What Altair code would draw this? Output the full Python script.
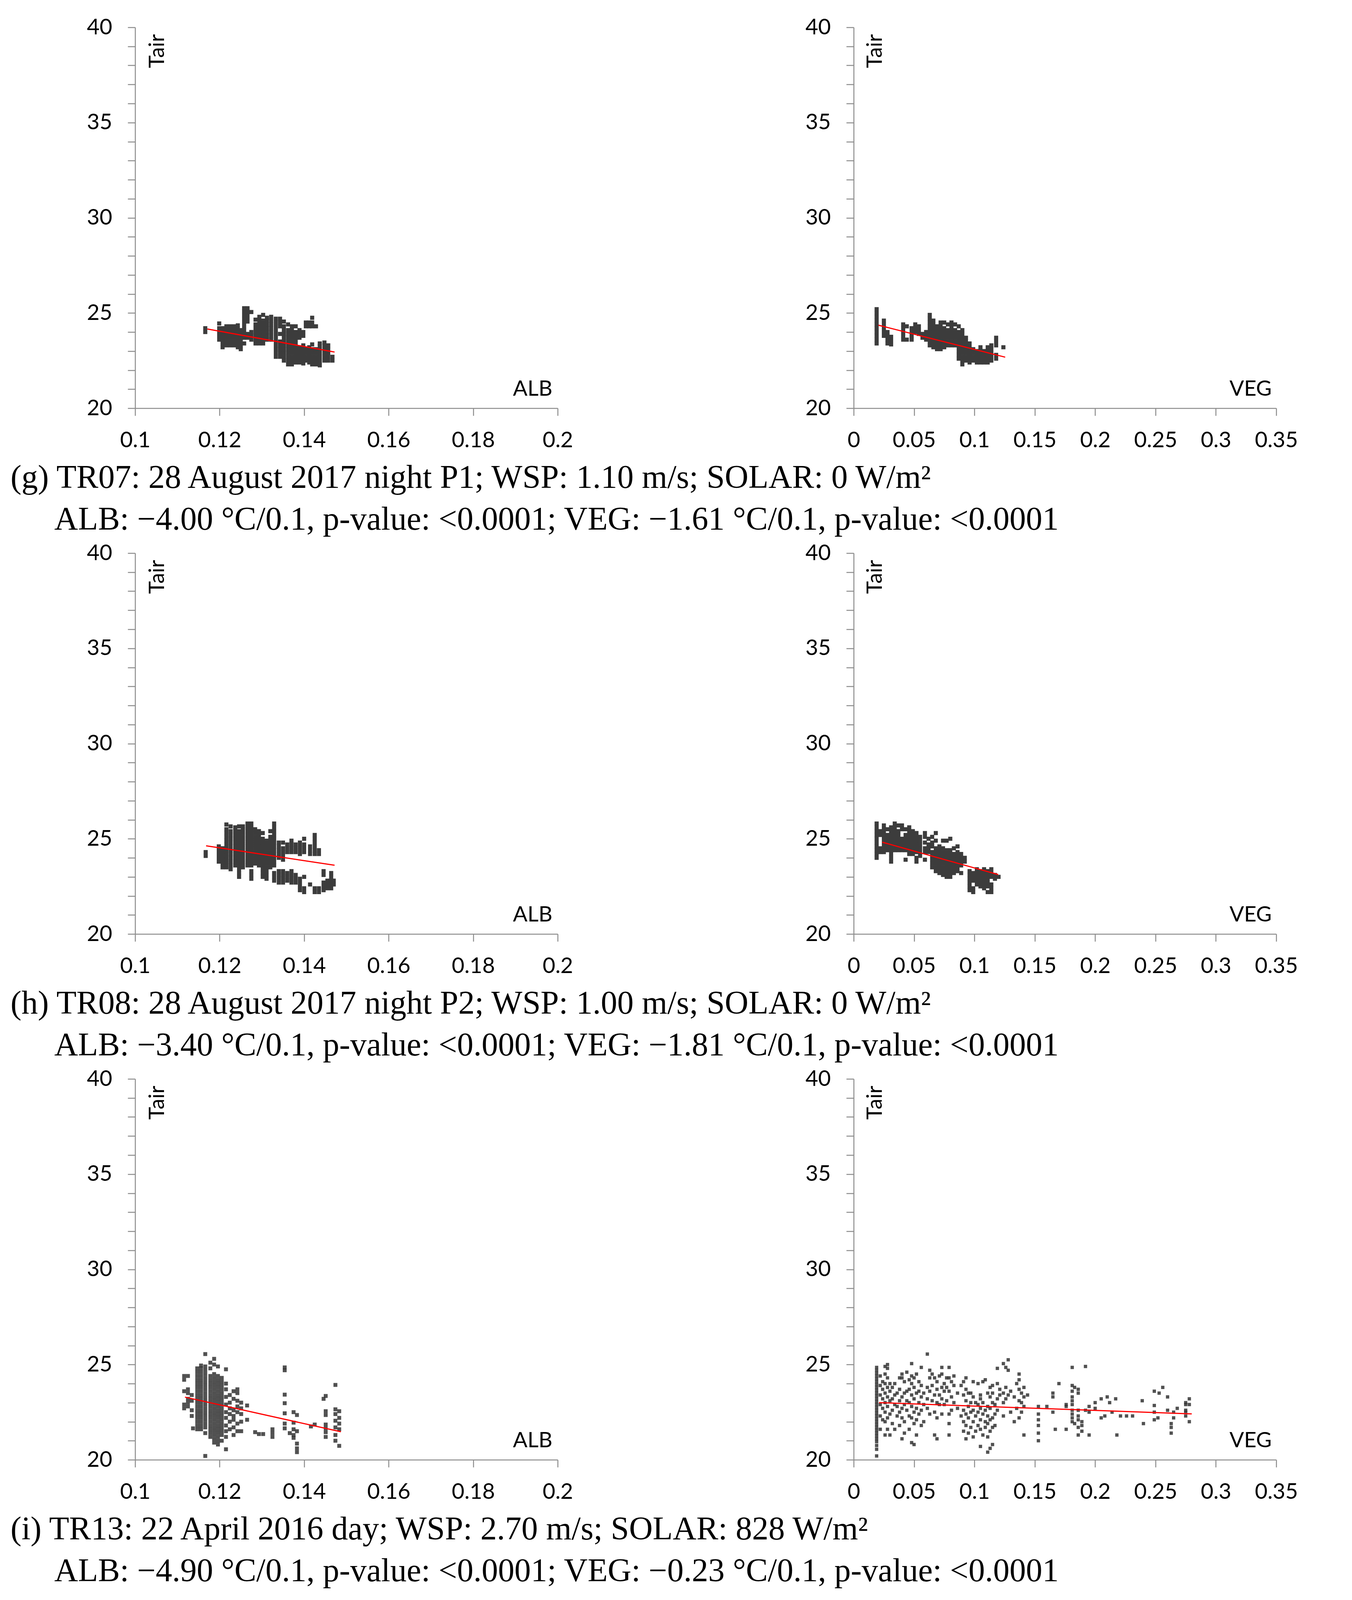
import altair as alt
import pandas as pd

W = 1082
H = 975
NB = "\u00a0"
ZW = "\u200b"
HAIR = "\u200a"

Y_TICKS = list(range(20, 41))
X_TICKS_ALB = [0.1, 0.12, 0.14, 0.16, 0.18, 0.2]
X_TICKS_VEG = [0, 0.05, 0.1, 0.15, 0.2, 0.25, 0.3, 0.35]

# ---------------- (g) ----------------
G_ALB = [
    (0.1166, [24.0, 24.2]),
    (0.1199, [23.6, 23.8, 24.0, 24.2, 24.45]),
    (0.1207, [23.2, 23.4, 23.6, 23.8, 24.0, 24.2]),
    (0.1216, [23.3, 23.5, 23.7, 23.9, 24.1, 24.3]),
    (0.1225, [23.3, 23.5, 23.7, 23.9, 24.1, 24.3]),
    (0.1234, [23.3, 23.5, 23.7, 23.9, 24.1, 24.3]),
    (0.1243, [23.2, 23.4, 23.6, 23.8, 24.0, 24.2, 24.35]),
    (0.1250, [23.1, 23.3, 23.5, 23.7, 23.9, 24.1]),
    (0.1258, [23.4, 23.7, 23.9, 24.1, 24.3, 24.5, 24.7, 24.9, 25.1, 25.25]),
    (0.1266, [23.7, 23.9, 24.55, 24.75, 24.95, 25.15, 25.25]),
    (0.1275, [23.6, 23.8, 24.0, 25.05]),
    (0.1285, [23.4, 23.6, 23.8, 24.0, 24.2, 24.4, 24.65]),
    (0.1294, [23.4, 23.6, 23.8, 24.0, 24.2, 24.4, 24.6, 24.8]),
    (0.1303, [23.4, 23.6, 23.8, 24.0, 24.2, 24.4, 24.6, 24.9]),
    (0.1312, [23.6, 23.8, 24.0, 24.2, 24.4, 24.6, 24.75]),
    (0.1322, [23.6, 23.8, 24.0, 24.2, 24.4, 24.6, 24.8]),
    (0.1333, [22.7, 22.9, 23.1, 23.3, 23.5, 23.7, 23.9, 24.1, 24.3, 24.5, 24.7]),
    (0.1343, [22.7, 22.9, 23.1, 23.3, 23.5, 23.9, 24.3, 24.5, 24.7]),
    (0.1352, [22.5, 22.7, 22.9, 23.1, 23.3, 23.5, 23.7, 23.9, 24.1, 24.3, 24.55]),
    (0.1362, [22.3, 22.5, 22.7, 22.9, 23.1, 23.3, 23.5, 23.7, 23.9, 24.1, 24.4]),
    (0.1371, [22.3, 22.5, 22.7, 22.9, 23.1, 23.3, 23.5, 23.7, 23.9, 24.1, 24.3]),
    (0.1380, [22.4, 22.6, 22.8, 23.0, 23.2, 23.4, 23.6, 23.8, 24.0, 24.3]),
    (0.1389, [22.4, 22.6, 22.8, 23.0, 23.2, 23.7, 23.9, 24.1]),
    (0.1398, [22.35, 22.55, 22.75, 22.95, 23.15, 23.3, 23.8, 24.0]),
    (0.1404, [22.5, 22.7, 22.9, 23.1, 24.3, 24.5]),
    (0.1412, [22.4, 22.6, 22.8, 23.0, 23.2, 24.3, 24.5]),
    (0.1419, [22.3, 22.5, 22.7, 22.9, 23.1, 23.35, 24.3, 24.5, 24.75]),
    (0.1428, [22.3, 22.5, 22.7, 22.9, 23.1, 24.3]),
    (0.1437, [22.25, 22.45, 22.65, 22.85, 23.05, 23.25, 23.4]),
    (0.1448, [22.5, 22.7, 22.9, 23.1, 23.3, 23.45]),
    (0.1457, [22.5, 22.7, 22.9, 23.1, 23.3]),
    (0.1467, [22.5, 22.7]),
]
G_ALB_LINE = [(0.1171, 24.16), (0.1472, 22.95)]

G_VEG = [
    (0.019, [23.4, 23.6, 23.8, 24.0, 24.2, 24.4, 24.6, 24.8, 25.0, 25.2]),
    (0.025, [23.8, 24.0, 24.2, 24.4, 24.6]),
    (0.028, [23.4, 23.6, 23.8, 24.0]),
    (0.031, [23.35, 23.55, 23.75]),
    (0.041, [23.6, 23.8, 24.0, 24.2, 24.4]),
    (0.044, [23.6, 24.3]),
    (0.048, [23.6, 23.8, 24.0, 24.2]),
    (0.051, [24.0, 24.2, 24.4]),
    (0.054, [23.9, 24.1, 24.3]),
    (0.057, [23.7, 23.9]),
    (0.060, [23.6, 23.8, 24.0]),
    (0.063, [23.3, 23.5, 23.7, 23.9, 24.1, 24.3, 24.5, 24.7, 24.9]),
    (0.066, [23.2, 23.4, 23.6, 23.8, 24.0, 24.2, 24.4, 24.6]),
    (0.069, [23.1, 23.3, 23.5, 23.7, 23.9, 24.1, 24.3]),
    (0.072, [23.1, 23.3, 23.5, 23.7, 23.9, 24.1, 24.3, 24.5]),
    (0.075, [23.2, 23.4, 23.6, 23.8, 24.0, 24.2, 24.5]),
    (0.078, [23.3, 23.5, 23.7, 23.9, 24.1, 24.4]),
    (0.081, [23.3, 23.5, 23.7, 23.9, 24.1, 24.3, 24.5]),
    (0.084, [23.3, 23.5, 23.7, 23.9, 24.1, 24.4]),
    (0.087, [22.6, 22.8, 23.0, 23.2, 23.4, 23.6, 23.8, 24.0, 24.3]),
    (0.090, [22.3, 22.5, 22.7, 22.9, 23.1, 23.3, 23.5, 23.7, 23.9, 24.1]),
    (0.093, [22.5, 22.7, 22.9, 23.1, 23.3, 23.5, 23.7]),
    (0.096, [22.4, 22.6, 22.8, 23.0, 23.2, 23.4]),
    (0.099, [22.5, 22.7, 22.9, 23.1]),
    (0.102, [22.4, 22.6, 22.8, 23.0]),
    (0.105, [22.4, 22.6, 22.8, 23.0, 23.2]),
    (0.108, [22.4, 22.6, 22.8, 23.0]),
    (0.111, [22.4, 22.6, 22.8, 23.0, 23.2]),
    (0.114, [22.5, 22.7, 22.9, 23.1, 23.3]),
    (0.118, [22.6, 22.8, 23.3, 23.5, 23.7]),
    (0.124, [23.2]),
]
G_VEG_LINE = [(0.0205, 24.36), (0.1255, 22.68)]

# ---------------- (h) ----------------
H_ALB = [
    (0.1167, [24.1, 24.3]),
    (0.1198, [23.8, 24.0, 24.2, 24.4, 24.6]),
    (0.1207, [23.5, 23.7, 23.9, 24.1, 24.3, 24.5]),
    (0.1216, [23.5, 23.7, 23.9, 24.1, 24.3, 24.5, 24.7, 24.9, 25.1, 25.3, 25.5, 25.75]),
    (0.1226, [23.4, 23.6, 23.8, 24.0, 24.2, 24.4, 24.6, 24.8, 25.0, 25.2, 25.4, 25.65]),
    (0.1237, [23.6, 23.8, 24.0, 24.2, 24.4, 24.6, 24.8, 25.0, 25.2, 25.4, 25.6]),
    (0.1246, [23.0, 23.2, 23.4, 23.6, 23.8, 24.0, 24.2, 24.4, 24.6, 24.8, 25.0, 25.2, 25.4, 25.65]),
    (0.1255, [23.5, 23.7, 23.9, 24.1, 24.3, 24.5, 24.7, 24.9, 25.1, 25.3, 25.5, 25.65]),
    (0.1266, [23.6, 23.8, 24.0, 24.2, 24.4, 24.6, 24.8, 25.0, 25.2, 25.4, 25.6, 25.8]),
    (0.1275, [22.9, 23.1, 23.3, 23.6, 23.8, 24.0, 24.2, 24.4, 24.6, 24.8, 25.0, 25.2, 25.4, 25.6, 25.8]),
    (0.1284, [23.7, 23.9, 24.1, 24.3, 24.5, 24.7, 24.9, 25.1, 25.3, 25.5]),
    (0.1293, [23.6, 23.8, 24.0, 24.2, 24.4, 24.6, 24.8, 25.0, 25.2, 25.4]),
    (0.1302, [23.0, 23.2, 23.4, 23.6, 23.8, 24.0, 24.2, 24.4, 24.6, 24.8, 25.0, 25.3]),
    (0.1311, [22.9, 23.1, 23.3, 23.5, 23.7, 23.9, 24.1, 24.3, 24.5, 24.7, 24.9]),
    (0.1320, [23.5, 23.7, 23.9, 24.1, 24.3, 24.5, 24.7, 24.9, 25.1, 25.4]),
    (0.1329, [22.8, 23.0, 23.2, 23.6, 23.8, 24.0, 24.2, 24.4, 24.6, 24.8, 25.0, 25.2, 25.4, 25.6, 25.8]),
    (0.1340, [22.7, 22.9, 23.1, 23.3, 24.0, 24.2, 24.4, 24.6, 24.8]),
    (0.1350, [22.7, 22.9, 23.1, 23.3, 23.9, 24.1, 24.3, 24.5, 24.8]),
    (0.1360, [22.8, 23.0, 23.2, 24.3, 24.5, 24.7]),
    (0.1370, [22.7, 22.9, 23.1, 23.3, 24.3, 24.5, 24.7, 24.9]),
    (0.1380, [22.7, 22.9, 23.1, 24.3, 24.5, 24.7]),
    (0.1390, [22.3, 22.5, 22.7, 22.9, 24.2, 24.4, 24.6, 24.8]),
    (0.1400, [22.2, 22.4, 23.0, 24.3, 24.5, 24.7, 25.0]),
    (0.1414, [22.6, 24.2, 24.4, 24.6]),
    (0.1425, [22.2, 22.4, 24.2, 24.4, 24.6, 24.8, 25.0, 25.2]),
    (0.1435, [22.2, 22.4, 24.2, 24.4]),
    (0.1446, [22.3, 22.5, 22.7, 23.1, 23.3]),
    (0.1455, [22.4, 22.6, 22.8]),
    (0.1464, [22.4, 22.6, 22.8, 23.0, 23.2]),
    (0.1470, [22.6, 22.8]),
]
H_ALB_LINE = [(0.1168, 24.63), (0.1472, 23.61)]

H_VEG = [
    (0.019, [24.0, 24.2, 24.4, 24.6, 24.8, 25.0, 25.2, 25.4, 25.6, 25.8]),
    (0.022, [24.3, 24.5, 25.2, 25.4]),
    (0.025, [24.3, 24.5, 24.7, 24.9, 25.1, 25.3, 25.5, 25.7]),
    (0.028, [24.4, 24.6, 24.8, 25.0, 25.2, 25.5]),
    (0.031, [23.8, 24.0, 24.2, 24.4, 24.6, 24.8, 25.0, 25.2, 25.4, 25.6]),
    (0.034, [24.4, 24.6, 24.8, 25.0, 25.2, 25.4, 25.6, 25.8]),
    (0.037, [24.4, 24.6, 24.8, 25.0, 25.2, 25.4, 25.7]),
    (0.040, [24.4, 24.6, 24.8, 25.0, 25.5, 25.7]),
    (0.043, [23.9, 24.4, 24.6, 24.8, 25.0, 25.2, 25.5]),
    (0.046, [24.2, 24.4, 24.6, 24.8, 25.0, 25.2, 25.4, 25.6]),
    (0.049, [24.2, 24.4, 24.6, 24.8, 25.0, 25.2, 25.4]),
    (0.052, [23.8, 24.0, 24.3, 24.5, 24.7, 24.9, 25.1, 25.3]),
    (0.055, [24.1, 24.3, 24.5, 24.7, 24.9, 25.1]),
    (0.059, [23.9, 24.3, 24.5, 24.8, 25.1, 25.3]),
    (0.062, [24.3, 24.5, 24.7, 25.0]),
    (0.065, [23.5, 23.7, 23.9, 24.1, 24.3, 24.6, 24.8, 25.1]),
    (0.068, [23.3, 23.5, 23.7, 23.9, 24.1, 24.3, 24.5, 24.9, 25.3]),
    (0.071, [23.2, 23.4, 23.6, 23.8, 24.0, 24.2, 24.4, 24.6]),
    (0.074, [23.1, 23.3, 23.5, 23.7, 23.9, 24.1, 24.3, 24.5, 24.9]),
    (0.077, [23.0, 23.2, 23.4, 23.6, 23.8, 24.0, 24.2, 24.4, 24.9]),
    (0.080, [23.0, 23.2, 23.4, 23.6, 23.8, 24.0, 24.2, 24.4, 25.0]),
    (0.083, [23.2, 23.4, 23.6, 23.8, 24.0, 24.2, 24.5]),
    (0.086, [23.3, 23.5, 23.7, 23.9, 24.1, 24.3, 24.6]),
    (0.089, [23.2, 23.6, 23.8, 24.0, 24.2]),
    (0.092, [23.8, 24.0]),
    (0.096, [22.3, 22.5, 22.7, 22.9, 23.1, 23.3]),
    (0.099, [22.2, 22.4, 22.8, 23.0, 23.2]),
    (0.102, [22.6, 22.8, 23.0, 23.2, 23.4]),
    (0.105, [22.5, 22.7, 22.9, 23.1, 23.3]),
    (0.108, [22.4, 22.6, 22.8, 23.0, 23.2, 23.4]),
    (0.111, [22.2, 22.5, 22.7, 22.9, 23.1, 23.3]),
    (0.114, [22.2, 22.4, 22.6, 23.0, 23.2, 23.4]),
    (0.117, [22.9, 23.1]),
    (0.120, [23.0]),
]
H_VEG_LINE = [(0.0237, 24.82), (0.1197, 23.12)]

# ---------------- (i) ----------------
I_ALB = [
    (0.1116, [22.7, 22.9, 23.6, 24.2, 24.4]),
    (0.1125, [22.8, 23.0, 23.2, 23.5, 23.7, 24.4]),
    (0.1134, [22.3, 22.6, 23.1, 23.4]),
    (0.1137, [21.65]),
    (0.1147, [21.6, 21.8, 22.0, 22.2, 22.4, 22.6, 22.8, 23.0, 23.2, 23.4, 23.6, 23.8, 24.0, 24.2, 24.4, 24.6, 24.8]),
    (0.1156, [21.6, 21.8, 22.0, 22.2, 22.4, 22.6, 22.8, 23.0, 23.2, 23.4, 23.6, 23.8, 24.0, 24.2, 24.4, 24.6, 24.8, 24.95]),
    (0.1166, [20.2, 21.4, 21.7, 21.9, 22.1, 22.3, 22.5, 22.7, 22.9, 23.1, 23.3, 23.5, 23.7, 23.9, 24.1, 24.3, 24.5, 24.7, 24.9, 25.55]),
    (0.1178, [21.2, 21.4, 21.6, 21.8, 22.0, 22.2, 22.4, 22.6, 22.8, 23.0, 23.2, 23.4, 23.6, 23.8, 24.0, 24.2, 24.4, 24.8, 25.1]),
    (0.1187, [20.9, 21.1, 21.3, 21.5, 21.7, 21.9, 22.1, 22.3, 22.5, 22.7, 22.9, 23.1, 23.3, 23.5, 23.7, 23.9, 24.1, 24.3, 24.5, 25.0, 25.3]),
    (0.1196, [20.8, 21.0, 21.2, 21.4, 21.6, 21.8, 22.0, 22.2, 22.4, 22.6, 22.8, 23.0, 23.2, 23.4, 23.6, 23.8, 24.0, 24.2, 24.4, 24.9]),
    (0.1205, [21.0, 21.3, 21.5, 21.7, 21.9, 22.1, 22.3, 22.5, 22.7, 22.9, 23.1, 23.3, 23.5, 23.7, 23.9, 24.1, 24.3]),
    (0.1215, [20.55, 21.2, 21.5, 21.8, 22.2, 22.5, 22.9, 23.3, 23.7, 24.0, 24.75]),
    (0.1224, [21.6, 22.0, 22.4, 22.7, 23.0, 23.4]),
    (0.1233, [21.3, 21.7, 22.1, 22.3, 22.6, 23.2, 23.6]),
    (0.1242, [21.5, 21.9, 22.5, 22.8, 23.1, 23.5, 23.7]),
    (0.1251, [21.5, 22.0, 22.4, 22.7, 23.0]),
    (0.1265, [22.1, 22.85]),
    (0.1284, [21.45]),
    (0.1293, [21.35]),
    (0.1303, [21.35]),
    (0.1325, [21.2, 21.4, 21.6]),
    (0.1354, [21.65, 21.9, 22.44, 22.97, 23.42, 24.7, 24.85]),
    (0.1366, [21.4]),
    (0.1375, [21.15, 21.3, 21.6, 21.95, 22.5]),
    (0.1383, [20.4, 20.6, 20.85, 21.5, 22.35]),
    (0.1416, [21.75]),
    (0.1425, [21.85]),
    (0.1446, [23.2]),
    (0.1451, [21.2, 21.45, 21.65, 21.85, 22.35, 22.55, 23.35]),
    (0.1474, [21.0, 21.3, 21.7, 22.05, 22.4, 22.65, 23.93]),
    (0.1483, [20.73, 21.6, 21.9, 22.2, 22.55]),
]
I_ALB_LINE = [(0.1118, 23.29), (0.1487, 21.47)]

I_VEG = [
    (0.019, [20.2, 20.55, 20.75, 20.95, 21.1, 21.25, 21.4, 21.55, 21.7, 21.85, 22.0, 22.15, 22.3,
             22.45, 22.6, 22.75, 22.9, 23.05, 23.2, 23.35, 23.5, 23.65, 23.8, 23.95, 24.1, 24.25,
             24.4, 24.55, 24.7, 24.85]),
    (0.022, [21.6, 22.3, 22.9, 23.4, 23.9, 24.4]),
    (0.024, [22.1, 22.7, 23.2, 23.7, 24.1]),
    (0.026, [21.3, 22.0, 22.5, 23.0, 23.5, 24.0, 24.5, 24.9]),
    (0.028, [21.6, 22.2, 22.8, 23.3, 23.8, 24.3, 24.8, 25.0]),
    (0.030, [21.3, 22.4, 23.1, 23.6, 24.0]),
    (0.032, [21.9, 22.6, 23.2, 23.8]),
    (0.034, [21.6, 22.9, 23.4, 24.0]),
    (0.036, [22.3, 22.8, 23.5]),
    (0.038, [21.8, 22.5, 23.1, 23.7, 24.3]),
    (0.040, [21.1, 22.2, 22.7, 23.3, 24.3, 24.5]),
    (0.042, [21.4, 22.0, 22.9, 23.5, 24.1]),
    (0.044, [22.6, 23.1, 23.6, 24.6]),
    (0.046, [21.6, 22.3, 23.0, 23.7, 24.2]),
    (0.048, [20.9, 22.2, 22.8, 23.4, 24.0, 24.4, 25.05]),
    (0.050, [20.8, 21.9, 22.5, 23.2, 23.8, 24.3]),
    (0.052, [21.3, 22.1, 22.7, 23.5, 24.5]),
    (0.054, [22.4, 23.0, 23.6, 24.1]),
    (0.056, [21.8, 22.6, 23.3, 23.9, 24.85]),
    (0.058, [22.0, 22.9, 23.5]),
    (0.061, [22.7, 23.2, 23.8, 25.55]),
    (0.063, [22.4, 23.6, 24.3, 24.7]),
    (0.065, [23.1, 23.9, 24.5]),
    (0.067, [21.3, 22.5, 23.4, 24.3]),
    (0.069, [21.1, 22.2, 23.0, 23.7, 24.1]),
    (0.071, [22.9, 23.4, 24.4]),
    (0.073, [22.4, 23.2, 23.8, 24.5, 24.85]),
    (0.075, [22.9, 23.6, 24.0]),
    (0.077, [23.1, 23.8, 24.3]),
    (0.079, [21.3, 21.9, 22.4, 23.6, 24.3, 24.85]),
    (0.081, [22.6, 23.3, 24.1]),
    (0.083, [23.0, 23.9, 24.4]),
    (0.086, [22.7, 23.5]),
    (0.089, [22.3, 23.9]),
    (0.091, [21.5, 22.0, 22.6, 23.4, 24.1]),
    (0.093, [21.1, 21.8, 22.4, 23.1, 23.7, 24.3]),
    (0.095, [21.4, 22.2, 22.8, 23.5]),
    (0.097, [21.7, 22.5, 23.0, 23.5]),
    (0.099, [21.2, 22.0, 22.6, 23.3, 24.1]),
    (0.101, [21.5, 22.3, 23.0]),
    (0.103, [21.8, 22.5, 22.9, 24.0]),
    (0.105, [20.7, 21.6, 22.1, 22.7, 23.2, 23.4]),
    (0.107, [21.3, 22.4, 23.0, 24.1]),
    (0.109, [21.7, 22.0, 22.6, 24.2]),
    (0.111, [20.4, 21.2, 21.9, 22.3, 22.8, 23.5]),
    (0.113, [20.6, 21.5, 22.1, 22.7, 23.3, 23.8]),
    (0.115, [20.8, 21.7, 22.2, 23.0, 23.5, 23.9]),
    (0.117, [21.8, 22.4, 22.9]),
    (0.119, [22.6, 23.2, 24.0, 24.8]),
    (0.121, [23.4, 23.7]),
    (0.124, [22.3, 23.0, 23.5, 25.05]),
    (0.126, [23.2, 23.8, 24.85]),
    (0.128, [23.4, 24.7, 25.25]),
    (0.130, [22.5, 23.6]),
    (0.133, [22.0, 23.3]),
    (0.135, [22.7, 24.0]),
    (0.137, [22.2, 23.1, 23.7, 24.2, 24.5]),
    (0.139, [22.5, 23.0, 23.5]),
    (0.141, [21.3, 22.8, 23.3, 23.8]),
    (0.144, [23.4]),
    (0.153, [21.0, 21.4, 21.8, 22.1, 22.4, 22.8]),
    (0.160, [22.8]),
    (0.165, [22.5, 23.3, 23.5]),
    (0.167, [21.6]),
    (0.170, [24.0]),
    (0.176, [21.6, 22.8, 22.9]),
    (0.181, [22.0, 22.2, 22.4, 22.6, 22.9, 23.1, 23.3, 23.6, 23.9, 24.85]),
    (0.183, [21.9, 23.8]),
    (0.186, [21.3, 21.7, 22.1, 22.3, 22.6, 23.5, 23.7]),
    (0.189, [21.5, 21.8, 22.0]),
    (0.192, [22.6, 24.9]),
    (0.195, [21.3, 22.5, 22.8]),
    (0.200, [22.7, 23.0]),
    (0.205, [22.2, 23.2]),
    (0.208, [22.3]),
    (0.210, [23.3]),
    (0.212, [23.0]),
    (0.214, [22.5]),
    (0.217, [23.2]),
    (0.218, [21.3]),
    (0.221, [22.3]),
    (0.226, [22.3]),
    (0.231, [22.3]),
    (0.239, [23.1]),
    (0.240, [21.9]),
    (0.249, [22.1, 22.5, 22.85, 23.6]),
    (0.252, [22.2]),
    (0.253, [23.5]),
    (0.256, [23.8]),
    (0.260, [22.6, 23.3]),
    (0.263, [21.4, 21.7, 21.9]),
    (0.265, [22.2, 22.5]),
    (0.268, [22.7]),
    (0.275, [22.3, 22.5, 22.6, 22.9, 23.0]),
    (0.278, [22.0, 22.9, 23.2]),
]
I_VEG_LINE = [(0.021, 23.0), (0.280, 22.41)]

CAPTIONS = [
    ("(g) TR07: 28 August 2017 night P1; WSP: 1.10 m/s; SOLAR: 0 W/m\u00b2",
     "ALB: \u22124.00 \u00b0C/0.1, p-value: <0.0001; VEG: \u22121.61 \u00b0C/0.1, p-value: <0.0001"),
    ("(h) TR08: 28 August 2017 night P2; WSP: 1.00 m/s; SOLAR: 0 W/m\u00b2",
     "ALB: \u22123.40 \u00b0C/0.1, p-value: <0.0001; VEG: \u22121.81 \u00b0C/0.1, p-value: <0.0001"),
    ("(i) TR13: 22 April 2016 day; WSP: 2.70 m/s; SOLAR: 828 W/m\u00b2",
     "ALB: \u22124.90 \u00b0C/0.1, p-value: <0.0001; VEG: \u22120.23 \u00b0C/0.1, p-value: <0.0001"),
]


def pts_df(cols):
    return pd.DataFrame([{"x": x, "y": y} for x, ys in cols for y in ys])


def line_df(pts):
    return pd.DataFrame([{"x": x, "y": y} for x, y in pts])


def panel(cols, line, xdom, xticks, xtitle, size, color, opacity, tair_x, xt_off, cap=None):
    xs = alt.Scale(domain=xdom, nice=False, zero=False)
    ys = alt.Scale(domain=[20, 40], nice=False, zero=False)
    xax = alt.Axis(values=xticks, format="~g", title=xtitle, titleX=W - xt_off, titleY=-33,
                   titleAlign="right", titleBaseline="alphabetic", titleAngle=0)
    yax = alt.Axis(values=Y_TICKS, labelExpr="datum.value % 5 === 0 ? datum.label : ''",
                   title="Tair", titleX=tair_x, titleY=17, titleAngle=270,
                   titleAlign="right", titleBaseline="middle")
    p = alt.Chart(pts_df(cols)).mark_square(size=size, color=color, opacity=opacity).encode(
        x=alt.X("x:Q", scale=xs, axis=xax),
        y=alt.Y("y:Q", scale=ys, axis=yax),
    )
    l = alt.Chart(line_df(line)).mark_line(color="#ff0000", strokeWidth=3).encode(
        x="x:Q", y="y:Q")
    ch = alt.layer(p, l).properties(width=W, height=H)
    if cap is not None:
        ch = ch.properties(title=alt.TitleParams(
            text=[cap[0], ZW + NB * 5 + HAIR + cap[1]], orient="bottom", anchor="start",
            frame="group", font="Liberation Serif", fontSize=84, fontWeight="normal",
            color="#000000", lineHeight=107, offset=28, dx=-319))
    return ch


panels = []
for (a, al, v, vl, sz, col, op, szv), cap in zip(
    [
        (G_ALB, G_ALB_LINE, G_VEG, G_VEG_LINE, 110, "#3c3c3c", 1.0, 110),
        (H_ALB, H_ALB_LINE, H_VEG, H_VEG_LINE, 110, "#3c3c3c", 1.0, 110),
        (I_ALB, I_ALB_LINE, I_VEG, I_VEG_LINE, 100, "#333333", 0.85, 72),
    ],
    CAPTIONS,
):
    panels.append(panel(a, al, [0.1, 0.2], X_TICKS_ALB, "ALB", sz, col, op, 56, 14, cap))
    panels.append(panel(v, vl, [0, 0.35], X_TICKS_VEG, "VEG", szv, col, op, 54, 12))

chart = alt.concat(*panels, columns=2, spacing={"row": 371, "column": 758}, bounds="flush").properties(
    padding={"left": 19, "top": 34, "right": 10, "bottom": 20}
).configure_view(stroke=None).configure_axis(
    grid=False, domainColor="#8c8c8c", domainWidth=2.5, tickColor="#8c8c8c", tickWidth=2.5,
    tickSize=19, labelFont="Lato", labelFontSize=56, labelColor="#000000", labelFlush=False,
    labelOverlap=False, titleFont="Lato", titleFontSize=55, titleFontWeight="normal",
    titleColor="#000000",
).configure_axisX(labelPadding=36).configure_axisY(labelPadding=40)

chart.save("out.html", embed_options={"renderer": "svg", "actions": False})
